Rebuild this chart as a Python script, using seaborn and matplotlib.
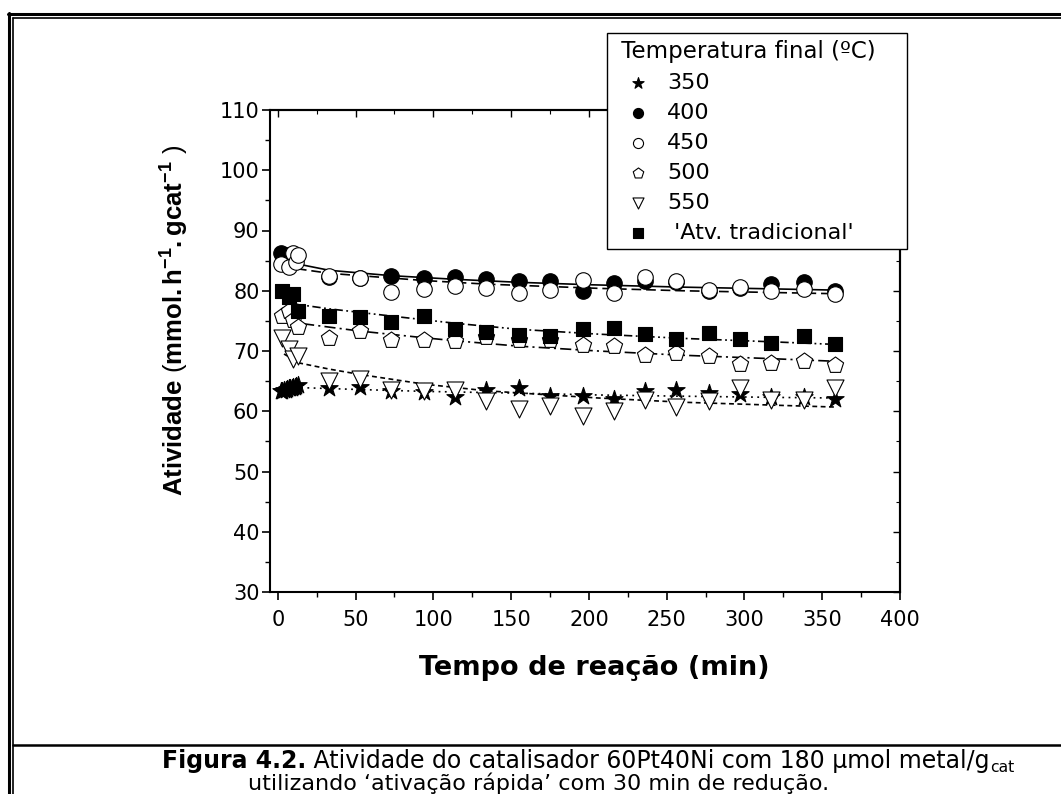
import numpy as np
import pandas as pd
import matplotlib
matplotlib.use("Agg")
import matplotlib.pyplot as plt
import seaborn as sns
from matplotlib.lines import Line2D
from matplotlib.ticker import MultipleLocator

# ---------------- data ----------------
t_grid = [33, 53, 73, 94, 114, 134, 155, 175, 196, 216, 236, 256, 277, 297, 317, 338, 358]

t350 = [2, 3, 4, 5, 6, 7, 8, 9, 10, 11, 12, 13] + t_grid
v350 = [63.3, 63.4, 63.5, 63.5, 63.7, 63.8, 63.8, 63.9, 64.0, 64.1, 64.2, 64.3,
        63.9, 64.1, 63.4, 63.2, 62.3, 63.6, 63.8, 62.5, 62.6,
        62.0, 63.3, 63.6, 63.1, 62.8, 62.4, 62.4, 62.0]

t400 = [2, 6] + t_grid
v400 = [86.2, 86.0,
        82.2, 82.1, 82.5, 82.1, 82.3, 81.9, 81.6, 81.6, 80.0,
        81.3, 81.7, 81.4, 80.0, 80.5, 81.1, 81.5, 80.0]

t450 = [2, 7, 10, 12, 13] + t_grid
v450 = [84.4, 83.9, 86.2, 84.7, 85.9,
        82.5, 82.1, 79.8, 80.3, 80.8, 80.5, 79.6, 80.1, 81.8,
        79.7, 82.3, 81.6, 80.1, 80.6, 79.9, 80.3, 79.5]

t500 = [3, 7, 10, 13] + t_grid
v500 = [75.8, 76.6, 75.2, 74.0,
        72.2, 73.4, 71.8, 71.8, 71.6, 72.3, 71.8, 71.8, 71.0,
        70.8, 69.4, 69.7, 69.1, 67.9, 68.0, 68.3, 67.6]

t550 = [3, 7, 10, 13] + t_grid
v550 = [72.2, 70.3, 68.6, 69.1,
        65.0, 65.3, 63.6, 63.3, 63.6, 61.7, 60.4, 60.8, 59.2,
        60.1, 61.9, 60.7, 61.7, 63.9, 61.9, 61.9, 63.9]

t_trad = [3, 7, 10, 13] + t_grid
v_trad = [80.0, 79.0, 79.4, 76.7,
          75.8, 75.6, 74.8, 75.8, 73.6, 73.1, 72.6, 72.5, 73.6,
          73.8, 72.8, 72.0, 73.0, 72.0, 71.4, 72.5, 71.1]

# fitted trend curves
fit350_t = [3, 17, 53, 94, 155, 206, 260, 320, 358]
fit350_v = [64.1, 63.9, 63.6, 63.3, 63.0, 62.7, 62.5, 62.3, 62.2]
fit400_t = [2, 33, 73, 114, 155, 200, 260, 320, 360]
fit400_v = [85.0, 83.4, 82.5, 81.9, 81.4, 81.0, 80.6, 80.3, 80.1]
fit450_t = [3, 33, 53, 94, 134, 175, 206, 260, 320, 360]
fit450_v = [84.0, 82.9, 82.5, 81.7, 81.1, 80.7, 80.4, 80.0, 79.7, 79.5]
fit500_t = [3, 14, 53, 94, 114, 155, 206, 260, 320, 358]
fit500_v = [75.5, 74.6, 73.3, 72.2, 71.7, 70.8, 70.0, 69.3, 68.7, 68.3]
fit550_t = [4, 14, 33, 53, 94, 134, 175, 206, 260, 320, 358]
fit550_v = [69.5, 68.0, 67.0, 66.1, 64.5, 63.4, 62.7, 62.2, 61.5, 61.0, 60.7]
fittrad_t = [8, 33, 73, 114, 155, 206, 260, 320, 358]
fittrad_v = [77.9, 77.0, 75.8, 74.6, 73.6, 72.8, 72.1, 71.5, 71.1]

labels = ["350", "400", "450", "500", "550", " 'Atv. tradicional'"]
x_ticks = [0, 50, 100, 150, 200, 250, 300, 350, 400]
y_ticks = [30, 40, 50, 60, 70, 80, 90, 100, 110]

# ---------------- style ----------------
sns.set_style("ticks")
plt.rcParams["font.family"] = ["DejaVu Sans"]
plt.rcParams["mathtext.fontset"] = "custom"
plt.rcParams["mathtext.rm"] = "Liberation Sans"
plt.rcParams["mathtext.bf"] = "Liberation Sans:bold"
plt.rcParams["mathtext.it"] = "Liberation Sans:italic"
plt.rcParams["lines.scale_dashes"] = False
for key in ["text.color", "axes.labelcolor", "xtick.color", "ytick.color",
            "axes.edgecolor", "legend.labelcolor"]:
    plt.rcParams[key] = "black"

W, H = 1061, 794
fig = plt.figure(figsize=(W / 100, H / 100), dpi=100)
fig.patch.set_facecolor("white")

L, R, T, B = 270, 900, 110, 592
ax = fig.add_axes([L / W, 1 - B / H, (R - L) / W, (B - T) / H])
ax.set_facecolor("white")

series = [
    (labels[0], t350, v350, "*", "black", 170),
    (labels[1], t400, v400, "o", "black", 125),
    (labels[2], t450, v450, "o", "white", 125),
    (labels[3], t500, v500, "p", "white", 150),
    (labels[4], t550, v550, "v", "white", 150),
    (labels[5], t_trad, v_trad, "s", "black", 105),
]
for lab, t, v, m, fc, s in series:
    sns.scatterplot(x=t, y=v, marker=m, s=s, color=fc, edgecolor="black",
                    linewidth=0.8, ax=ax, label=lab, zorder=3)

fits = [
    (fit350_t, fit350_v, (1.3, 3.2)),
    (fit400_t, fit400_v, None),
    (fit450_t, fit450_v, (7, 3.5)),
    (fit500_t, fit500_v, (8, 3, 1.5, 3)),
    (fit550_t, fit550_v, (3.5, 2.5)),
    (fittrad_t, fittrad_v, (6, 2.5, 1.3, 2.5, 1.3, 2.5)),
]
for ft, fv, dash in fits:
    sns.lineplot(x=ft, y=fv, color="black", linewidth=1.2, ax=ax,
                 estimator=None, sort=False, legend=False, zorder=2)
    if dash is not None:
        ax.lines[-1].set_dashes(dash)

ax.set_xlim(-5, 400)
ax.set_ylim(30, 110)
ax.set_xticks(x_ticks)
ax.set_yticks(y_ticks)
ax.xaxis.set_minor_locator(MultipleLocator(25))
ax.yaxis.set_minor_locator(MultipleLocator(5))
ax.tick_params(which="major", direction="out", length=6, width=1.2,
               labelsize=15, color="black", labelcolor="black")
ax.tick_params(axis="x", which="major", pad=7)
ax.tick_params(axis="y", which="major", pad=1.5)
ax.tick_params(which="minor", direction="out", length=3.5, width=1.0)
for sp in ax.spines.values():
    sp.set_visible(True)
    sp.set_linewidth(1.5)
    sp.set_color("black")

# inward ticks on top and right
sec_r = ax.secondary_yaxis("right")
sec_r.set_yticks(y_ticks)
sec_r.yaxis.set_minor_locator(MultipleLocator(5))
sec_r.tick_params(which="major", direction="in", length=5, width=1.0, labelright=False)
sec_r.tick_params(which="minor", direction="in", length=3, width=0.8)
sec_r.spines["right"].set_linewidth(1.5)
sec_t = ax.secondary_xaxis("top")
sec_t.set_xticks(x_ticks)
sec_t.xaxis.set_minor_locator(MultipleLocator(25))
sec_t.tick_params(which="major", direction="in", length=5, width=1.0, labeltop=False)
sec_t.tick_params(which="minor", direction="in", length=3, width=0.8)
sec_t.spines["top"].set_linewidth(1.5)

ax.set_xlabel("Tempo de reação (min)", fontsize=19.5, fontweight="bold", va="center",
              color="black")
ax.xaxis.set_label_coords((594 - L) / (R - L), (B - 668) / (B - T))
ax.set_ylabel(r"$\mathbf{Atividade}$ ($\mathbf{mmol.h^{-1}.gcat^{-1}}$ )",
              fontsize=18.5, va="center", fontfamily="Liberation Sans", color="black")
ax.yaxis.set_label_coords((175 - L) / (R - L), (B - 320) / (B - T))

handles, labs = ax.get_legend_handles_labels()
leg = ax.legend(handles, labs, title=" Temperatura final (ºC)", loc="upper left",
                bbox_to_anchor=(607 / W, 1 - 252 / H, 300 / W, 219 / H),
                bbox_transform=fig.transFigure, mode="expand",
                frameon=True, fancybox=False, edgecolor="black", framealpha=1,
                fontsize=16, title_fontsize=16.5, markerscale=0.65, alignment="left",
                borderaxespad=0, labelspacing=0.45, handletextpad=0.2,
                handlelength=2.2, borderpad=0.3)
leg.get_frame().set_linewidth(1.0)
leg.get_title().set_color("black")
for txt in leg.get_texts():
    txt.set_color("black")
leg.set_zorder(10)

# ---------------- page frame and caption ----------------
def fline(x0, y0, x1, y1, lw):
    fig.add_artist(Line2D([x0 / W, x1 / W], [1 - y0 / H, 1 - y1 / H],
                          color="black", lw=lw, transform=fig.transFigure))

fline(8, 14, W, 14, 2.2)
fline(12.5, 18, W, 18, 1.2)
fline(9, 13, 9, H, 2.2)
fline(13, 17.5, 13, H, 1.2)
fline(13, 745, W, 745, 1.8)

cap_fs = 16
cap1_fs = 17
renderer = fig.canvas.get_renderer()
tA = fig.text(0, 0, "Figura 4.2.", fontsize=cap1_fs, fontweight="bold",
              va="baseline", ha="left", color="black")
tB = fig.text(0, 0, " Atividade do catalisador 60Pt40Ni com 180 μmol metal/g",
              fontsize=cap1_fs, va="baseline", ha="left", color="black")
tC = fig.text(0, 0, "cat", fontsize=cap1_fs * 0.66, va="baseline", ha="left",
              color="black")
wA = tA.get_window_extent(renderer).width
wB = tB.get_window_extent(renderer).width
wC = tC.get_window_extent(renderer).width
x0 = 588 - (wA + wB + wC) / 2
base1 = 768
tA.set_position((x0 / W, 1 - base1 / H))
tB.set_position(((x0 + wA) / W, 1 - base1 / H))
tC.set_position(((x0 + wA + wB + 0.5) / W, 1 - (base1 + 4) / H))
fig.text(539 / W, 1 - 790 / H,
         "utilizando ‘ativação rápida’ com 30 min de redução.",
         ha="center", va="baseline", fontsize=cap_fs, color="black")

fig.savefig("out.png", dpi=100)
